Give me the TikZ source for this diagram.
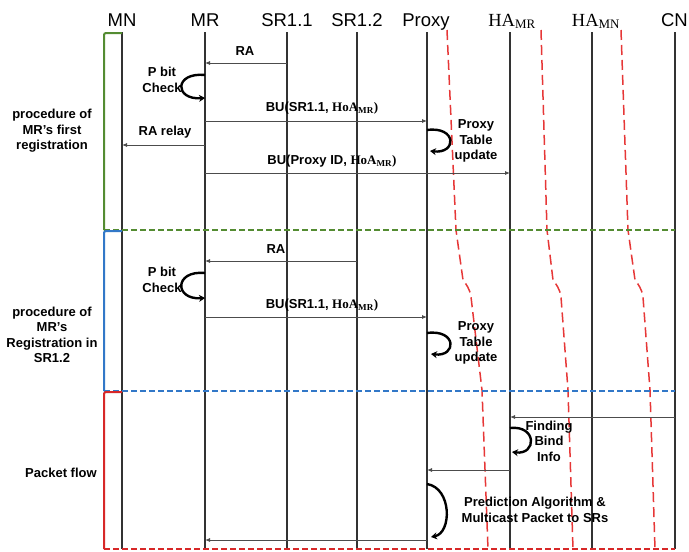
\documentclass[tikz,border=0pt]{standalone}
\usepackage{fontspec}
\setmainfont{Liberation Sans}
\newfontfamily\serifb{Liberation Serif}
\usetikzlibrary{arrows.meta}
\definecolor{grn}{RGB}{84,140,50}
\definecolor{blu}{RGB}{50,120,200}
\definecolor{rdb}{RGB}{215,40,40}
\definecolor{rdd}{RGB}{230,55,55}
\newcommand{\hoa}{{\serifb\bfseries HoA\textsubscript{MR})}}
\begin{document}
\begin{tikzpicture}[x=1pt,y=-1pt,
  hdr/.style={font=\fontsize{18.5}{18}\selectfont, inner sep=0, anchor=base},
  lbl/.style={font=\fontsize{13}{15.5}\selectfont\bfseries, align=center, inner sep=0},
  life/.style={line width=1.4pt, draw=black!80},
  msg/.style={line width=0.8pt, draw=black!70, -{Latex[length=5pt,width=4pt]}},
  selfloop/.style={line width=2.4pt, -{Stealth[length=6pt,width=7pt]}},
  brk/.style={line width=2pt, rounded corners=2pt},
  sep/.style={line width=2pt, dash pattern=on 6pt off 3pt},
  rcurve/.style={line width=1.5pt, draw=rdd, dash pattern=on 10pt off 5pt}]
\useasboundingbox (0,0) rectangle (689,552);
% headers
\node[hdr] (MN) at (122,26) {MN};
\node[hdr] (MR) at (205,26) {MR};
\node[hdr] (SRa) at (287,26) {SR1.1};
\node[hdr] (SRb) at (357,26) {SR1.2};
\node[hdr] (PX) at (426,26) {Proxy};
\node[hdr] (HAR) at (512,26) {\serifb HA\textsubscript{MR}};
\node[hdr] (HAN) at (596,26) {\serifb HA\textsubscript{MN}};
\node[hdr, anchor=base east] (CN) at (688,26) {CN};
% lifeline tops
\coordinate (lMN) at (122,32);
\coordinate (lMR) at (205,32);
\coordinate (lSRa) at (287,32);
\coordinate (lSRb) at (357,32);
\coordinate (lPX) at (427,32);
\coordinate (lHAR) at (510,32);
\coordinate (lHAN) at (592,32);
\coordinate (lCN) at (675,32);
\foreach \c in {lMN,lMR,lSRa,lSRb,lPX,lHAR,lHAN,lCN}
  \draw[life] (\c) -- (\c |- 0,549);
% red dashed curves
\draw[rcurve] (447,30) -- (456,230) -- (463,280) .. controls (466,284) and (470,289) .. (471,297) -- (482,390) -- (488,549);
\draw[rcurve] (541,30) -- (547,230) -- (553,280) .. controls (556,284) and (560,289) .. (561,297) -- (568,390) -- (573,549);
\draw[rcurve] (621,30) -- (628,230) -- (635,280) .. controls (638,284) and (642,289) .. (643,297) -- (650,390) -- (655,549);
% brackets and separators
\draw[brk, grn] (lMN |- 0,33) -- (104,33) -- (104,230);
\draw[sep, grn] (104,230) -- (lCN |- 0,230);
\draw[brk, blu] (lMN |- 0,231) -- (104,231) -- (104,391);
\draw[sep, blu] (104,391) -- (lCN |- 0,391);
\draw[brk, rdb] (lMN |- 0,392) -- (104,392) -- (104,549);
\draw[sep, rdb] (104,549) -- (lCN |- 0,549);
% section labels
\node[lbl] (s1) at (52,131) {procedure of\\MR's first\\registration};
\node[lbl] (s2) at (52,335) {procedure of\\MR's\\Registration in\\SR1.2};
\node[lbl] (s3) at (61,473) {Packet flow};
% section 1
\draw[msg] (lSRa |- 0,63) -- (lMR |- 0,63);
\node[lbl] (m1) at (245,51) {RA};
\draw[selfloop] (lMR |- 0,75) .. controls (174,72) and (174,100) .. (lMR |- 0,98);
\node[lbl] (c1) at (162,80) {P bit\\Check};
\draw[msg] (lMR |- 0,121) -- (lPX |- 0,121);
\node[lbl] (m2) at (322,108) {BU(SR1.1, \hoa};
\draw[msg] (lMR |- 0,145) -- (lMN |- 0,145);
\node[lbl] (m3) at (165,132) {RA relay};
\draw[selfloop] (lPX |- 0,130) .. controls (457,126) and (457,154) .. (430,151);
\node[lbl] (c2) at (476,141) {Proxy\\Table\\update};
\draw[msg] (lMR |- 0,173) -- (lHAR |- 0,173);
\node[lbl] (m4) at (332,161) {BU(Proxy ID, \hoa};
% section 2
\draw[msg] (lSRb |- 0,261) -- (lMR |- 0,261);
\node[lbl] (m5) at (276,249) {RA};
\draw[selfloop] (lMR |- 0,273) .. controls (174,270) and (174,300) .. (lMR |- 0,298);
\node[lbl] (c3) at (162,280) {P bit\\Check};
\draw[msg] (lMR |- 0,317) -- (lPX |- 0,317);
\node[lbl] (m6) at (322,305) {BU(SR1.1, \hoa};
\draw[selfloop] (lPX |- 0,333) .. controls (457,329) and (457,357) .. (431,354);
\node[lbl] (c4) at (476,343) {Proxy\\Table\\update};
% section 3
\draw[msg] (lCN |- 0,417) -- (lHAR |- 0,417);
\draw[selfloop] (lHAR |- 0,428) .. controls (537,425) and (537,455) .. (512,452);
\node[lbl] (c5) at (549,441) {Finding\\Bind\\Info};
\draw[msg] (lHAR |- 0,470) -- (lPX |- 0,470);
\draw[selfloop] (lPX |- 0,484) .. controls (452,488) and (452,533) .. (431,537);
\node[lbl] (c6) at (535,510) {Prediction Algorithm \&\\Multicast Packet to SRs};
\draw[msg] (lPX |- 0,540) -- (lMR |- 0,540);
\end{tikzpicture}
\end{document}
